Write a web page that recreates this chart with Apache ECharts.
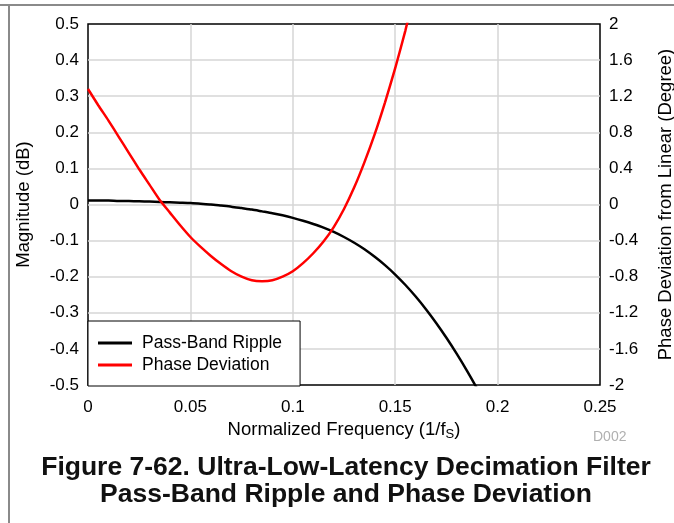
<!DOCTYPE html>
<html>
<head>
<meta charset="utf-8">
<script src="https://cdn.jsdelivr.net/npm/echarts@6/dist/echarts.min.js"></script>
<style>
  html, body { margin: 0; padding: 0; background: #fff; }
  #chart { width: 674px; height: 523px; }
</style>
</head>
<body>
<div id="chart"></div>
<script>
// normalized frequency (1/fS)
const freq = [0, 0.005, 0.01, 0.015, 0.02, 0.025, 0.03, 0.035, 0.04, 0.045,
  0.05, 0.055, 0.06, 0.065, 0.07, 0.075, 0.08, 0.085, 0.09, 0.095,
  0.1, 0.105, 0.11, 0.115, 0.12, 0.125, 0.13, 0.135, 0.14, 0.145,
  0.15, 0.155, 0.16, 0.165, 0.17, 0.175, 0.18, 0.185, 0.19];

// pass-band ripple, dB (left axis)
const ripple = [0.011, 0.011, 0.011, 0.010, 0.010, 0.009, 0.008, 0.007, 0.006, 0.005,
  0.004, 0.002, 0.000, -0.003, -0.006, -0.010, -0.014, -0.019, -0.024, -0.030,
  -0.037, -0.045, -0.054, -0.064, -0.076, -0.090, -0.106, -0.124, -0.145, -0.168,
  -0.194, -0.223, -0.255, -0.290, -0.328, -0.369, -0.413, -0.460, -0.510];

// phase deviation from linear, degree (right axis)
const phase = [1.28, 1.10, 0.93, 0.75, 0.57, 0.39, 0.22, 0.05, -0.09, -0.23,
  -0.36, -0.47, -0.57, -0.66, -0.74, -0.80, -0.84, -0.85, -0.84, -0.80,
  -0.74, -0.65, -0.54, -0.41, -0.25, -0.05, 0.19, 0.47, 0.78, 1.13,
  1.51, 1.93, 2.40];

const freqTicks = [0, 0.05, 0.1, 0.15, 0.2, 0.25];
const magTicks = [-0.5, -0.4, -0.3, -0.2, -0.1, 0, 0.1, 0.2, 0.3, 0.4, 0.5];
const phaseTicks = [-2, -1.6, -1.2, -0.8, -0.4, 0, 0.4, 0.8, 1.2, 1.6, 2];

const chart = echarts.init(document.getElementById('chart'));
const FONT = 'Liberation Sans, Arial, sans-serif';
const fmt = v => String(+v.toFixed(2));
const GRID = '#d6d6d6';

const options = {
  animation: false,
  textStyle: { fontFamily: FONT, color: '#000' },
  title: {
    text: 'Figure 7-62. Ultra-Low-Latency Decimation Filter\nPass-Band Ripple and Phase Deviation',
    left: 341,
    top: 449,
    textAlign: 'center',
    textStyle: { fontFamily: FONT, fontSize: 26.5, fontWeight: 'bold', lineHeight: 27, color: '#111' }
  },
  grid: {
    left: 88, right: 74, top: 24, bottom: 138,
    outerBoundsMode: 'none',
    containLabel: false,
    show: true,
    borderColor: '#000',
    borderWidth: 1.5
  },
  legend: {
    orient: 'vertical',
    left: 88,
    top: 321,
    padding: [13, 18, 12, 10],
    itemGap: 4,
    itemWidth: 34,
    itemHeight: 3,
    icon: 'rect',
    backgroundColor: '#fff',
    borderColor: '#000',
    borderWidth: 1,
    textStyle: { fontFamily: FONT, fontSize: 17.5, color: '#000', padding: [0, 0, 0, 5] },
    data: ['Pass-Band Ripple', 'Phase Deviation']
  },
  xAxis: {
    type: 'value',
    min: freqTicks[0],
    max: freqTicks[freqTicks.length - 1],
    interval: freqTicks[1] - freqTicks[0],
    name: 'Normalized Frequency (1/f{s|S})',
    nameLocation: 'middle',
    nameGap: 34,
    nameTextStyle: {
      fontFamily: FONT, fontSize: 18.5, color: '#000',
      rich: { s: { fontFamily: FONT, fontSize: 13, verticalAlign: 'bottom', padding: [8, 0, 0, 0] } }
    },
    axisLine: { show: false },
    axisTick: { show: false },
    axisLabel: { fontFamily: FONT, fontSize: 17, color: '#000', margin: 14, formatter: fmt },
    splitLine: { showMinLine: false, showMaxLine: false, lineStyle: { color: GRID, width: 1.5 } }
  },
  yAxis: [
    {
      type: 'value',
      min: magTicks[0],
      max: magTicks[magTicks.length - 1],
      interval: 0.1,
      name: 'Magnitude (dB)',
      nameLocation: 'middle',
      nameGap: 55,
      nameTextStyle: { fontFamily: FONT, fontSize: 18.5, color: '#000' },
      axisLine: { show: false },
      axisTick: { show: false },
      axisLabel: { fontFamily: FONT, fontSize: 17, color: '#000', margin: 9, formatter: fmt },
      splitLine: { showMinLine: false, showMaxLine: false, lineStyle: { color: GRID, width: 1.5 } }
    },
    {
      type: 'value',
      min: phaseTicks[0],
      max: phaseTicks[phaseTicks.length - 1],
      interval: 0.4,
      name: 'Phase Deviation from Linear (Degree)',
      nameLocation: 'middle',
      nameGap: 56,
      nameRotate: 90,
      nameTextStyle: { fontFamily: FONT, fontSize: 18.5, color: '#000' },
      axisLine: { show: false },
      axisTick: { show: false },
      axisLabel: { fontFamily: FONT, fontSize: 17, color: '#000', margin: 9, formatter: fmt },
      splitLine: { show: false }
    }
  ],
  series: [
    {
      name: 'Pass-Band Ripple',
      type: 'line',
      yAxisIndex: 0,
      symbol: 'none',
      smooth: 0.2,
      clip: true,
      color: '#000',
      lineStyle: { color: '#000', width: 2.5 },
      data: freq.map((f, i) => [f, ripple[i]])
    },
    {
      name: 'Phase Deviation',
      type: 'line',
      yAxisIndex: 1,
      symbol: 'none',
      smooth: 0.2,
      clip: true,
      color: '#ff0000',
      lineStyle: { color: '#ff0000', width: 2.5 },
      data: phase.map((p, i) => [freq[i], p])
    }
  ],
  graphic: [
    { type: 'line', shape: { x1: 0, y1: 5, x2: 674, y2: 5 }, style: { stroke: '#8a8a8a', lineWidth: 2 } },
    { type: 'line', shape: { x1: 9, y1: 5, x2: 9, y2: 523 }, style: { stroke: '#8a8a8a', lineWidth: 2 } },
    { type: 'text', left: 593, top: 430, style: { text: 'D002', fontFamily: FONT, fontSize: 14, fill: '#b0b0b0' } }
  ]
};

chart.setOption(options);
</script>
</body>
</html>
